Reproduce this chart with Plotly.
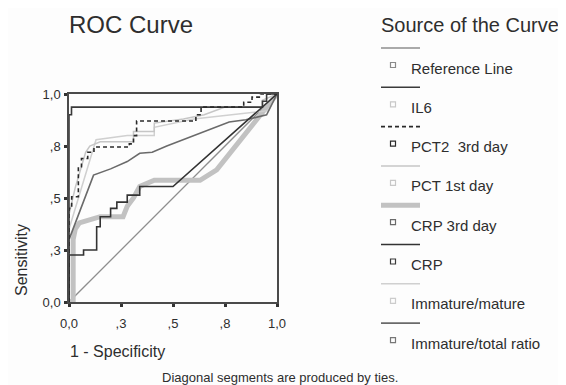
import plotly.graph_objects as go

# ---------------- data ----------------
series_names = ["Reference Line", "IL6", "PCT2  3rd day", "PCT 1st day",
                "CRP 3rd day", "CRP", "Immature/mature", "Immature/total ratio"]

ref_fpr = [0, 1]
ref_tpr = [0, 1]

il6_fpr = [0, 0, 0.012, 0.012, 0.64, 0.93, 0.93, 0.95, 0.95, 1]
il6_tpr = [0, 0.90, 0.90, 0.937, 0.937, 0.937, 0.965, 0.965, 1.0, 1]

pct2_fpr = [0, 0, 0.013, 0.013, 0.045, 0.045, 0.06, 0.06, 0.09, 0.09, 0.12, 0.12, 0.29, 0.29,
            0.31, 0.31, 0.325, 0.325, 0.61, 0.61, 0.635, 0.635, 0.84, 0.84, 0.88, 0.88, 0.92, 0.92, 1]
pct2_tpr = [0, 0.45, 0.45, 0.506, 0.506, 0.65, 0.65, 0.69, 0.69, 0.72, 0.72, 0.745, 0.745, 0.76,
            0.76, 0.80, 0.80, 0.87, 0.87, 0.90, 0.90, 0.937, 0.937, 0.96, 0.96, 0.985, 0.985, 1.0, 1]

pct1_fpr = [0, 0, 0.03, 0.05, 0.08, 0.10, 0.15, 0.31, 0.31, 0.41, 0.41, 0.55, 0.65, 0.75, 0.93, 0.93, 1]
pct1_tpr = [0, 0.42, 0.55, 0.62, 0.72, 0.75, 0.77, 0.77, 0.82, 0.82, 0.86, 0.88, 0.90, 0.937, 0.937, 0.97, 1]

crp3_fpr = [0, 0.02, 0.02, 0.03, 0.05, 0.085, 0.15, 0.26, 0.28, 0.31, 0.34, 0.41, 0.63, 0.71, 1]
crp3_tpr = [0, 0, 0.30, 0.35, 0.38, 0.39, 0.41, 0.41, 0.46, 0.50, 0.555, 0.585, 0.585, 0.635, 1]

crp_fpr = [0, 0, 0.07, 0.07, 0.133, 0.133, 0.15, 0.15, 0.20, 0.20, 0.23, 0.23, 0.28, 0.28, 0.34, 0.34, 0.50, 1]
crp_tpr = [0, 0.226, 0.226, 0.25, 0.25, 0.362, 0.362, 0.41, 0.41, 0.45, 0.45, 0.48, 0.48, 0.514, 0.514, 0.555, 0.555, 1]

im_fpr = [0, 0, 0.13, 0.28, 0.41, 0.41, 0.60, 0.85, 0.96, 1]
im_tpr = [0, 0.35, 0.78, 0.80, 0.80, 0.84, 0.88, 0.91, 0.92, 1]

it_fpr = [0, 0, 0.118, 0.20, 0.28, 0.34, 0.40, 0.47, 0.77, 0.85, 0.95, 1]
it_tpr = [0, 0.30, 0.61, 0.64, 0.675, 0.715, 0.72, 0.75, 0.865, 0.876, 0.90, 1]

x_tickvals = [0, 0.25, 0.5, 0.75, 1]
x_ticktext = ["0,0", ",3", ",5", ",8", "1,0"]
y_tickvals = [0, 0.25, 0.5, 0.75, 1]
y_ticktext = ["0,0", ",3", ",5", ",8", "1,0"]

# ---------------- styles ----------------
styles = {
    "Reference Line": dict(color="#8e8e8e", width=1.3, dash="solid", mk="#8a8a8a"),
    "IL6": dict(color="#3a3a3a", width=1.6, dash="solid", mk="#c8c8c8"),
    "PCT2  3rd day": dict(color="#2a2a2a", width=1.6, dash="4px,3px", mk="#2a2a2a"),
    "PCT 1st day": dict(color="#c6c6c6", width=1.5, dash="solid", mk="#c8c8c8"),
    "CRP 3rd day": dict(color="#c2c2c2", width=5, dash="solid", mk="#6a6a6a"),
    "CRP": dict(color="#333333", width=1.6, dash="solid", mk="#3a3a3a"),
    "Immature/mature": dict(color="#d0d0d0", width=1.5, dash="solid", mk="#cccccc"),
    "Immature/total ratio": dict(color="#6a6a6a", width=1.6, dash="solid", mk="#777777"),
}

data_map = {
    "Reference Line": (ref_fpr, ref_tpr),
    "IL6": (il6_fpr, il6_tpr),
    "PCT2  3rd day": (pct2_fpr, pct2_tpr),
    "PCT 1st day": (pct1_fpr, pct1_tpr),
    "CRP 3rd day": (crp3_fpr, crp3_tpr),
    "CRP": (crp_fpr, crp_tpr),
    "Immature/mature": (im_fpr, im_tpr),
    "Immature/total ratio": (it_fpr, it_tpr),
}

draw_order = ["Reference Line", "CRP 3rd day", "Immature/mature", "PCT 1st day",
              "Immature/total ratio", "IL6", "CRP", "PCT2  3rd day"]

fig = go.Figure()
for name in draw_order:
    xs, ys = data_map[name]
    st = styles[name]
    fig.add_trace(go.Scatter(x=xs, y=ys, mode="lines", name=name, showlegend=False,
                             line=dict(color=st["color"], width=st["width"], dash=st["dash"]),
                             hoverinfo="skip"))

# ---------------- layout ----------------
# page body has an 8px margin, so the figure is shrunk by 8px and all positions
# below are window pixels
OFF = 8
WW, WH = 566, 385
L, R, T, B = 69, 277, 94, 302
PW, PH = R - L, B - T


def px(xp):
    return (xp - L) / PW


def py(yp):
    return (B - yp) / PH


txt = "#2e2e2e"
font_family = "Liberation Sans, Arial, sans-serif"

fig.update_layout(
    width=WW - OFF, height=WH - OFF, autosize=False,
    margin=dict(l=L - OFF, r=WW - R, t=T - OFF, b=WH - B, pad=0),
    paper_bgcolor="#fdfdfd", plot_bgcolor="#fdfdfd",
    font=dict(family=font_family, color=txt),
    showlegend=False,
)
axis_common = dict(range=[0, 1], showgrid=False, zeroline=False, showline=True, mirror=True,
                   linecolor="#4a4a4a", linewidth=1.5, ticks="outside", ticklen=3, tickwidth=3,
                   tickcolor="#333333", tickfont=dict(size=13, color=txt, family=font_family),
                   fixedrange=True)
fig.update_xaxes(**axis_common, tickvals=x_tickvals, ticktext=x_ticktext, ticklabelstandoff=6)
fig.update_yaxes(**axis_common, tickvals=y_tickvals, ticktext=y_ticktext, ticklabelstandoff=1)

ann = []
ann.append(dict(text="ROC Curve", x=px(67), y=py(24), xref="paper", yref="paper",
                xanchor="left", yanchor="middle", showarrow=False,
                font=dict(size=24, color=txt)))
ann.append(dict(text="Sensitivity", x=px(21), y=py(260), xref="paper", yref="paper",
                xanchor="center", yanchor="middle", showarrow=False, textangle=-90,
                font=dict(size=16, color=txt)))
ann.append(dict(text="1 - Specificity", x=px(68), y=py(351), xref="paper", yref="paper",
                xanchor="left", yanchor="middle", showarrow=False,
                font=dict(size=16, color=txt)))
ann.append(dict(text="Diagonal segments are produced by ties.", x=px(280), y=py(377),
                xref="paper", yref="paper", xanchor="center", yanchor="middle", showarrow=False,
                font=dict(size=13, color=txt)))
ann.append(dict(text="Source of the Curve", x=px(379), y=py(25), xref="paper", yref="paper",
                xanchor="left", yanchor="middle", showarrow=False,
                font=dict(size=20, color=txt)))

shapes = []
for i, name in enumerate(series_names):
    st = styles[name]
    ly = 48 + 39.3 * i
    ty = 68 + 39.3 * i
    shapes.append(dict(type="line", xref="paper", yref="paper",
                       x0=px(381), x1=px(420), y0=py(ly), y1=py(ly),
                       line=dict(color=st["color"], width=st["width"] if st["width"] < 4 else 5,
                                 dash=st["dash"])))
    shapes.append(dict(type="rect", xref="paper", yref="paper",
                       x0=px(390.5), x1=px(395.5), y0=py(ty - 5.5), y1=py(ty - 0.5),
                       line=dict(color=st["mk"], width=1.2), fillcolor="rgba(0,0,0,0)"))
    ann.append(dict(text=name.replace("  ", "&nbsp; "), x=px(409), y=py(ty), xref="paper", yref="paper",
                    xanchor="left", yanchor="middle", showarrow=False,
                    font=dict(size=15, color=txt)))

fig.update_layout(annotations=ann, shapes=shapes)
fig.write_html("out.html")
